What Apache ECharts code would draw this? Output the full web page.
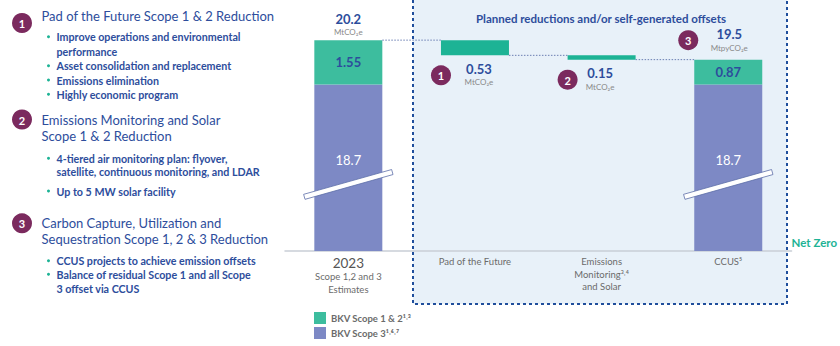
<!DOCTYPE html>
<html><head><meta charset="utf-8">
<script src="https://cdn.jsdelivr.net/npm/echarts@6/dist/echarts.min.js"></script>
<style>html,body{margin:0;padding:0;background:#fff}#c{width:840px;height:346px}</style>
</head><body><div id="c"></div>
<script>
// ---------- data ----------
const categories = ['2023', 'Pad of the Future', 'Emissions Monitoring and Solar', 'CCUS'];
const categoryLabels = [['2023', 'Scope 1,2 and 3', 'Estimates'], ['Pad of the Future'], ['Emissions', 'Monitoring³˒⁴', 'and Solar'], ['CCUS⁵']];
const scope3 = [18.7, null, null, 18.7];
const scope12 = [1.55, null, null, 0.87];
const reductions = [null, 0.53, 0.15, null];
const totalLabels = ['20.2', null, null, '19.5'];
const totalUnits = ['MtCO₂e', null, null, 'MtpyCO₂e'];
const reductionUnits = [null, 'MtCO₂e', 'MtCO₂e', null];
const stepNumbers = [null, '1', '2', '3'];
const seriesNames = ['BKV Scope 1 & 2¹˒³', 'BKV Scope 3¹˒⁶˒⁷'];
const boxTitle = 'Planned reductions and/or self-generated offsets';
const netZeroLabel = 'Net Zero';
const sectionNumbers = ['1', '2', '3'];
const sectionHeadings = [
  ['Pad of the Future Scope 1 & 2 Reduction'],
  ['Emissions Monitoring and Solar', 'Scope 1 & 2 Reduction'],
  ['Carbon Capture, Utilization and', 'Sequestration Scope 1, 2 & 3 Reduction']
];
const sectionBullets = [
  [['Improve operations and environmental', 'performance'], ['Asset consolidation and replacement'], ['Emissions elimination'], ['Highly economic program']],
  [['4-tiered air monitoring plan: flyover,', 'satellite, continuous monitoring, and LDAR'], ['Up to 5 MW solar facility']],
  [['CCUS projects to achieve emission offsets'], ['Balance of residual Scope 1 and all Scope', '3 offset via CCUS']]
];

// ---------- derived (waterfall) ----------
const tops = categories.map((c, i) => scope3[i] != null ? scope3[i] + scope12[i] : null);
const base = [];
let running = tops[0];
categories.forEach((c, i) => {
  if (reductions[i] != null) { running -= reductions[i]; base.push(running); }
  else base.push(null);
});
const dash = v => (v == null ? '-' : v);

// ---------- style ----------
const FONT = 'Lato, "Open Sans", sans-serif';
const BLUE = '#2d4d9c';
const TEAL = '#1db395';
const GREEN = '#3dbd9e';
const PERI = '#7d89c5';
const PLUM = '#7b2a5e';
const GREY = '#6b6b6b';
const BAR_W = 68;
const Y_MIN = 12.9, Y_MAX = 21.3;

// ---------- left panel graphics ----------
const g = [];
g.push({ type: 'rect', z: -10, shape: { x: 413, y: -3, width: 374, height: 307 },
  style: { fill: '#e8f1f9', stroke: '#1f4e9c', lineWidth: 2, lineDash: [3, 3] } });
g.push({ type: 'text', z: 5, style: { x: 601, y: 18, text: boxTitle, fill: BLUE, font: 'bold 11.5px ' + FONT, align: 'center', verticalAlign: 'middle' } });

const circleY = [23, 119.5, 223.3];
const headY = [[16], [120, 136], [223.3, 239.3]];
const bulletY = [[[36.7, 51.7], [65.7], [80], [94.3]], [[158.3, 171.7], [191]], [[260.7], [274.3, 288.3]]];
sectionNumbers.forEach((n, s) => {
  g.push({ type: 'circle', shape: { cx: 22, cy: circleY[s], r: 10 }, style: { fill: PLUM } });
  g.push({ type: 'text', style: { x: 22, y: circleY[s] + 0.5, text: n, fill: '#fff', font: 'bold 11px ' + FONT, align: 'center', verticalAlign: 'middle' } });
  sectionHeadings[s].forEach((h, k) => {
    g.push({ type: 'text', style: { x: 41.5, y: headY[s][k], text: h, fill: BLUE, font: '13px ' + FONT, verticalAlign: 'middle' } });
  });
  sectionBullets[s].forEach((lines, b) => {
    g.push({ type: 'circle', shape: { cx: 48.5, cy: bulletY[s][b][0], r: 1.5 }, style: { fill: TEAL } });
    lines.forEach((t, k) => {
      g.push({ type: 'text', style: { x: 56.5, y: bulletY[s][b][k], text: t, fill: BLUE, font: 'bold 10.7px ' + FONT, verticalAlign: 'middle' } });
    });
  });
});

// ---------- chart ----------
const chart = echarts.init(document.getElementById('c'), null, { renderer: 'svg' });

const annotData = categories.map((c, i) => [i, tops[i] != null ? tops[i] : base[i]]);
const connectors = [
  [0, tops[0], 1, tops[0]],
  [1, base[1], 2, base[1]],
  [2, base[2], 3, tops[3]]
];
const slashData = [0, 3].map(i => [i, scope3[i]]);

const option = {
  animation: false,
  textStyle: { fontFamily: FONT },
  grid: { left: 285, right: 47, top: 10, bottom: 95 },
  legend: {
    orient: 'vertical', left: 314, top: 312, padding: 0, itemWidth: 12, itemHeight: 12, itemGap: 3,
    icon: 'rect', data: seriesNames,
    textStyle: { color: GREY, fontSize: 9.5, fontWeight: 'bold', fontFamily: FONT, lineHeight: 12 }
  },
  xAxis: {
    type: 'category', data: categories,
    axisLine: { lineStyle: { color: '#c9ced6', width: 1.5 } },
    axisTick: { show: false },
    axisLabel: {
      interval: 0, margin: 4, verticalAlign: 'top',
      formatter: (v, i) => categoryLabels[i].map((t, k) => (i === 0 && k === 0 ? '{y|' + t + '}' : '{s|' + t + '}')).join('\n'),
      rich: {
        y: { fontSize: 13.5, color: '#555', fontFamily: FONT, lineHeight: 15 },
        s: { fontSize: 9.5, color: GREY, fontFamily: FONT, lineHeight: 12.7 }
      }
    },
    name: netZeroLabel, nameLocation: 'end', nameGap: 0,
    nameTextStyle: { color: TEAL, fontWeight: 'bold', fontSize: 11.5, fontFamily: FONT, align: 'left', verticalAlign: 'bottom', padding: [0, 0, 3, 0] }
  },
  yAxis: { type: 'value', min: Y_MIN, max: Y_MAX, show: false, splitLine: { show: false } },
  series: [
    { name: 'base', type: 'bar', stack: 'w', barWidth: BAR_W, silent: true,
      itemStyle: { color: 'rgba(0,0,0,0)' }, data: base.map(dash) },
    { name: seriesNames[1], type: 'bar', stack: 'w', barWidth: BAR_W, itemStyle: { color: PERI },
      label: { show: true, position: 'inside', offset: [0, -8], color: '#fff', fontSize: 13, fontFamily: FONT, formatter: p => p.value },
      data: scope3.map(dash) },
    { name: seriesNames[0], type: 'bar', stack: 'w', barWidth: BAR_W, itemStyle: { color: GREEN },
      label: { show: true, position: 'inside', color: BLUE, fontSize: 13, fontWeight: 'bold', fontFamily: FONT, formatter: p => p.value },
      data: scope12.map(dash) },
    { name: 'reduction', type: 'bar', stack: 'w', barWidth: BAR_W, itemStyle: { color: TEAL },
      data: reductions.map(dash) },
    { // dotted connectors
      type: 'custom', silent: true, z: 3,
      encode: { x: [0, 2], y: [1, 3] },
      data: connectors,
      renderItem: (params, api) => {
        const p1 = api.coord([api.value(0), api.value(1)]);
        const p2 = api.coord([api.value(2), api.value(3)]);
        return { type: 'line', shape: { x1: p1[0] + BAR_W / 2, y1: p1[1], x2: p2[0] - BAR_W / 2, y2: p2[1] },
          style: { stroke: '#6b7fb3', lineWidth: 1, lineDash: [1.5, 1.5] } };
      }
    },
    { // break slashes
      type: 'custom', silent: true, z: 4,
      encode: { x: 0, y: 1 },
      data: slashData,
      renderItem: (params, api) => {
        const top = api.coord([api.value(0), api.value(1)]);
        const bot = api.coord([api.value(0), Y_MIN]);
        const cx = top[0], cy = top[1] + 0.6 * (bot[1] - top[1]);
        const dx = 44, dy = 12.4, L = Math.hypot(dx, dy);
        const nx = dy / L * 2.6, ny = dx / L * 2.6;
        return { type: 'polygon', shape: { points: [
          [cx - dx - nx, cy + dy - ny], [cx + dx - nx, cy - dy - ny], [cx + dx + nx, cy - dy + ny], [cx - dx + nx, cy + dy + ny]] },
          style: { fill: '#fff', stroke: '#5d6ea8', lineWidth: 0.8 } };
      }
    },
    { // value labels and step circles
      type: 'custom', silent: true, z: 5,
      encode: { x: 0, y: 1 },
      data: annotData,
      renderItem: (params, api) => {
        const i = params.dataIndex;
        const p = api.coord([api.value(0), api.value(1)]);
        const cx = p[0], y = p[1];
        const children = [];
        const txt = (x, yy, t, font, fill) => children.push({ type: 'text', style: { x: x, y: yy, text: t, font: font, fill: fill, align: 'center', verticalAlign: 'middle' } });
        const circ = (x, yy, n) => {
          children.push({ type: 'circle', shape: { cx: x, cy: yy, r: 10 }, style: { fill: PLUM } });
          txt(x, yy + 0.5, n, 'bold 11px ' + FONT, '#fff');
        };
        if (totalLabels[i] != null) {
          const up = i === 0 ? 0 : 4.5;
          txt(cx + (i === 0 ? 0 : 1), y - 21.5 - up, totalLabels[i], 'bold 13px ' + FONT, BLUE);
          txt(cx + (i === 0 ? 0 : 1), y - 8.5 - up * 0.6, totalUnits[i], '8px ' + FONT, '#8a8a8a');
          if (stepNumbers[i]) circ(cx - 40, y - 19.5, stepNumbers[i]);
        } else {
          txt(cx + (i === 1 ? 4 : -1.5), y + 13.5, String(reductions[i]), 'bold 13px ' + FONT, BLUE);
          txt(cx + (i === 1 ? 4 : -1.5), y + 27, reductionUnits[i], '8px ' + FONT, '#8a8a8a');
          circ(cx - BAR_W / 2, y + 20, stepNumbers[i]);
        }
        return { type: 'group', children: children };
      }
    }
  ],
  graphic: g
};
chart.setOption(option);
</script>
</body></html>
